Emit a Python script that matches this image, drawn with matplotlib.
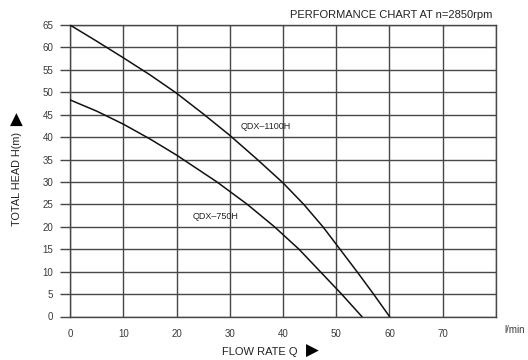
import matplotlib
matplotlib.use("Agg")
import matplotlib.pyplot as plt

plt.rcParams['font.family'] = ['Liberation Sans', 'DejaVu Sans']

# QDX-1100H curve (flow l/min, head m)
q_1100 = [0, 5, 10, 15, 20, 25, 30, 35, 40, 43.9, 47.5, 50.7, 53.9, 57.0, 60]
h_1100 = [65, 61.4, 57.7, 53.9, 49.8, 45.2, 40.4, 35.2, 29.8, 25, 20, 15, 10, 5, 0]

# QDX-750H curve
q_750 = [0, 5, 10, 15, 20, 27.6, 33.3, 38.4, 43.0, 47.0, 51.0, 54.8]
h_750 = [48.3, 45.8, 42.9, 39.6, 36.0, 30, 25, 20, 15, 10, 5, 0]

x_ticks = [0, 10, 20, 30, 40, 50, 60, 70]
y_ticks = list(range(0, 70, 5))

grid_c = '#474747'

fig = plt.figure(figsize=(5.28, 3.6), dpi=100)
ax = fig.add_axes([70 / 528, 1 - 316.5 / 360, 426 / 528, 291.5 / 360])

ax.plot(q_1100, h_1100, color='#111111', lw=1.1, zorder=3)
ax.plot(q_750, h_750, color='#111111', lw=1.1, zorder=3)

ax.set_xlim(0, 80)
ax.set_ylim(0, 65)
ax.set_xticks(x_ticks + [80])
ax.set_xticklabels([str(v) for v in x_ticks] + [''])
ax.set_yticks(y_ticks)
ax.grid(True, color=grid_c, lw=1.0)
for s in ax.spines.values():
    s.set_color(grid_c)
    s.set_linewidth(1.0)
ax.tick_params(axis='y', direction='out', length=7.5, width=1.0, color=grid_c,
               labelsize=7, pad=4.5, labelcolor='#3a3a3a')
ax.tick_params(axis='x', length=0, labelsize=7, pad=9, labelcolor='#3a3a3a')

ax.text(83.5, -2.9, 'l/min', fontsize=7, color='#3a3a3a', ha='center', va='center',
        clip_on=False)

ax.text(32, 42.3, 'QDX\u20131100H', fontsize=6.5, color='#222222', va='center')
ax.text(23.1, 22.3, 'QDX\u2013750H', fontsize=6.5, color='#222222', va='center')

fig.text(492 / 528, 1 - 15 / 360, 'PERFORMANCE CHART AT n=2850rpm', fontsize=8,
         color='#222222', ha='right', va='center')

fig.text(17 / 528, 1 - 179 / 360, 'TOTAL HEAD H(m)', fontsize=7.8, rotation=90,
         color='#222222', ha='center', va='center')
fig.text(16 / 528, 1 - 120 / 360, '\u25b2', fontsize=12, color='black',
         ha='center', va='center', family='DejaVu Sans')

fig.text(260 / 528, 1 - 352 / 360, 'FLOW RATE Q', fontsize=8, color='#222222',
         ha='center', va='center')
fig.text(312 / 528, 1 - 351 / 360, '\u25b6', fontsize=12, color='black',
         ha='center', va='center', family='DejaVu Sans')

fig.savefig('out.png', dpi=100)
